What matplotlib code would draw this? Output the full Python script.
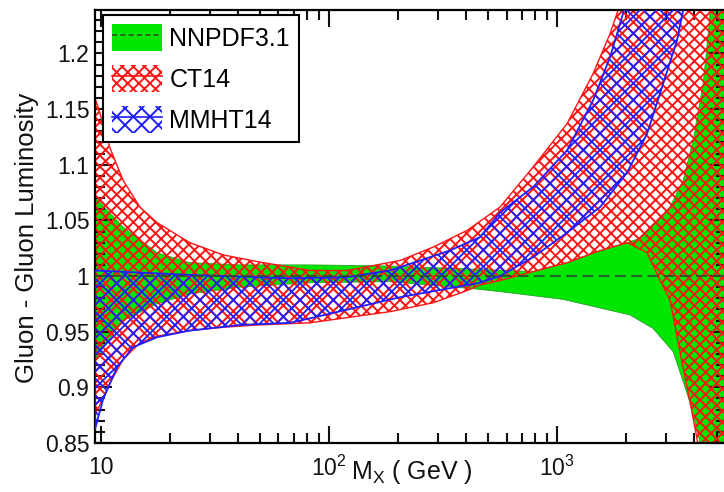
import numpy as np
import matplotlib
matplotlib.use('Agg')
import matplotlib.pyplot as plt
from matplotlib.patches import Patch
from matplotlib.lines import Line2D
from matplotlib.ticker import FixedLocator, LogLocator, NullFormatter

plt.rcParams['font.family'] = ['Liberation Sans', 'DejaVu Sans']
plt.rcParams['mathtext.fontset'] = 'custom'
plt.rcParams['mathtext.rm'] = 'Liberation Sans'
plt.rcParams['mathtext.it'] = 'Liberation Sans:italic'
plt.rcParams['mathtext.default'] = 'regular'
plt.rcParams['hatch.linewidth'] = 1.4

# NNPDF3.1 band
x_nn_up = [9.4, 12.5, 17.6, 24.5, 40.7, 82.6, 185, 459, 785, 1106, 1500, 2027, 2312, 3037, 3570, 3947, 4370, 4596, 4693, 5600, 7000]
y_nn_up = [1.071, 1.044, 1.021, 1.012, 1.010, 1.010, 1.009, 1.006, 1.004, 1.012, 1.022, 1.030, 1.034, 1.057, 1.086, 1.122, 1.173, 1.218, 1.239, 1.35, 1.35]
x_nn_lo = [9.4, 12.5, 17.6, 24.5, 40.7, 82.6, 185, 459, 562, 1062, 2088, 2630, 3228, 3832, 4240, 4600, 7000]
y_nn_lo = [0.925, 0.960, 0.975, 0.984, 0.990, 0.994, 0.995, 0.988, 0.986, 0.979, 0.965, 0.953, 0.932, 0.886, 0.850, 0.80, 0.80]
nn_center = 1.0

# CT14 band
x_ct_up = [9.4, 9.8, 10.95, 12.5, 14.8, 17.6, 24.5, 34.3, 48.3, 67.5, 82.6, 120, 205, 286, 403, 562, 785, 1106, 1439, 1708, 1851, 2100, 7000]
y_ct_up = [1.16, 1.149, 1.115, 1.086, 1.062, 1.048, 1.030, 1.019, 1.013, 1.008, 1.005, 1.005, 1.014, 1.026, 1.041, 1.062, 1.098, 1.137, 1.182, 1.218, 1.239, 1.28, 1.30]
x_ct_lo = [9.4, 10.2, 10.95, 12.5, 14.8, 17.6, 24.5, 34.3, 48.3, 82.6, 185, 286, 403, 459, 562, 785, 1106, 1500, 2027, 2481, 2830, 3131, 3462, 3832, 4111, 4500, 7000]
y_ct_lo = [0.875, 0.890, 0.904, 0.925, 0.940, 0.946, 0.951, 0.954, 0.956, 0.958, 0.968, 0.976, 0.987, 0.992, 0.996, 1.004, 1.012, 1.022, 1.030, 1.021, 0.996, 0.978, 0.931, 0.886, 0.853, 0.80, 0.80]

# MMHT14 band
x_mm_up = [9.4, 24.5, 67.5, 120, 185, 205, 339, 459, 562, 785, 1106, 1439, 1708, 1947, 2100]
y_mm_up = [1.005, 1.001, 0.998, 0.999, 1.005, 1.008, 1.023, 1.035, 1.057, 1.080, 1.113, 1.158, 1.197, 1.236, 1.26]
x_mm_lo = [9.4, 10.2, 11.75, 13.8, 17.6, 24.5, 40.7, 67.5, 82.6, 205, 459, 562, 785, 1106, 1544, 2027, 2481, 2918, 3358, 3570, 3800]
y_mm_lo = [0.862, 0.889, 0.918, 0.936, 0.945, 0.951, 0.956, 0.958, 0.962, 0.981, 0.994, 1.000, 1.017, 1.039, 1.062, 1.093, 1.128, 1.173, 1.212, 1.239, 1.27]

labels = ['NNPDF3.1', 'CT14', 'MMHT14']
xticks = [10, 100, 1000]
xticklabels = ['10', '$10^{2}$', '$10^{3}$']
yticks = [0.85, 0.9, 0.95, 1.0, 1.05, 1.1, 1.15, 1.2]
yticklabels = ['0.85', '0.9', '0.95', '1', '1.05', '1.1', '1.15', '1.2']

green = '#00e600'
red = '#ff1414'
blue = '#1e1eff'


def band(xu, yu, xl, yl):
    return np.r_[xu, xl[::-1]], np.r_[yu, yl[::-1]]


fig = plt.figure(figsize=(7.24, 4.92), dpi=100)
ax = fig.add_axes([95/724, 49/492, 631/724, 433/492])

bx, by = band(x_nn_up, y_nn_up, x_nn_lo, y_nn_lo)
ax.fill(bx, by, facecolor=green, edgecolor='#2f9a2f', lw=0.6, zorder=1)

bx, by = band(x_ct_up, y_ct_up, x_ct_lo, y_ct_lo)
with plt.rc_context({'hatch.linewidth': 1.4}):
    ax.fill(bx, by, facecolor='none', edgecolor=red, hatch='xxx', lw=1.0, zorder=2)

bx, by = band(x_mm_up, y_mm_up, x_mm_lo, y_mm_lo)
with plt.rc_context({'hatch.linewidth': 1.3}):
    ax.fill(bx, by, facecolor='none', edgecolor=blue, hatch='xx', lw=1.3, zorder=3)

ax.axhline(nn_center, color='#2d4f2d', lw=1.3, ls=(0, (6, 3)), zorder=4)

ax.set_xscale('log')
ax.set_xlim(9.41, 5500)
ax.set_ylim(0.85, 1.239)
ax.xaxis.set_major_locator(FixedLocator(xticks))
ax.set_xticklabels(xticklabels)
ax.xaxis.set_minor_locator(LogLocator(base=10, subs=np.arange(2, 10)))
ax.xaxis.set_minor_formatter(NullFormatter())
ax.yaxis.set_major_locator(FixedLocator(yticks))
ax.set_yticklabels(yticklabels)
ax.yaxis.set_minor_locator(FixedLocator(np.arange(0.85, 1.24, 0.01)))

ax.tick_params(which='both', direction='in', top=True, right=True, width=1.5, labelsize=16.5, colors='#111111')
ax.tick_params(which='major', length=12)
ax.tick_params(which='minor', length=7)
ax.tick_params(axis='x', pad=9)
ax.tick_params(axis='y', pad=4)
for s in ax.spines.values():
    s.set_linewidth(1.6)

fig.text(351/724, 1 - 479/492, 'M$_{X}$ ( GeV )', fontsize=18, ha='left', va='baseline', color='#111111')
fig.text(27/724, 1 - 238/492, 'Gluon - Gluon Luminosity', fontsize=18.5, rotation=90,
         ha='center', va='center', color='#111111')

h_nn = (Patch(facecolor=green, edgecolor='none'), Line2D([], [], color='#2d4f2d', lw=1.2, ls=(0, (3, 2))))
with plt.rc_context({'hatch.linewidth': 1.4}):
    h_ct = (Patch(facecolor='none', edgecolor=red, hatch='xxx', lw=0), Line2D([], [], color=red, lw=1.2))
with plt.rc_context({'hatch.linewidth': 1.3}):
    h_mm = (Patch(facecolor='none', edgecolor=blue, hatch='xx', lw=0), Line2D([], [], color=blue, lw=1.2))
leg = ax.legend([h_nn, h_ct, h_mm], labels, loc='upper left', bbox_to_anchor=(0.0127, 0.988),
                borderaxespad=0, fontsize=18, fancybox=False, edgecolor='black', framealpha=1,
                handlelength=2.0, handleheight=1.3, handletextpad=0.3, labelspacing=0.55, borderpad=0.35)
leg.get_frame().set_linewidth(1.5)
leg.set_zorder(10)

plt.savefig('out.png', dpi=100)
